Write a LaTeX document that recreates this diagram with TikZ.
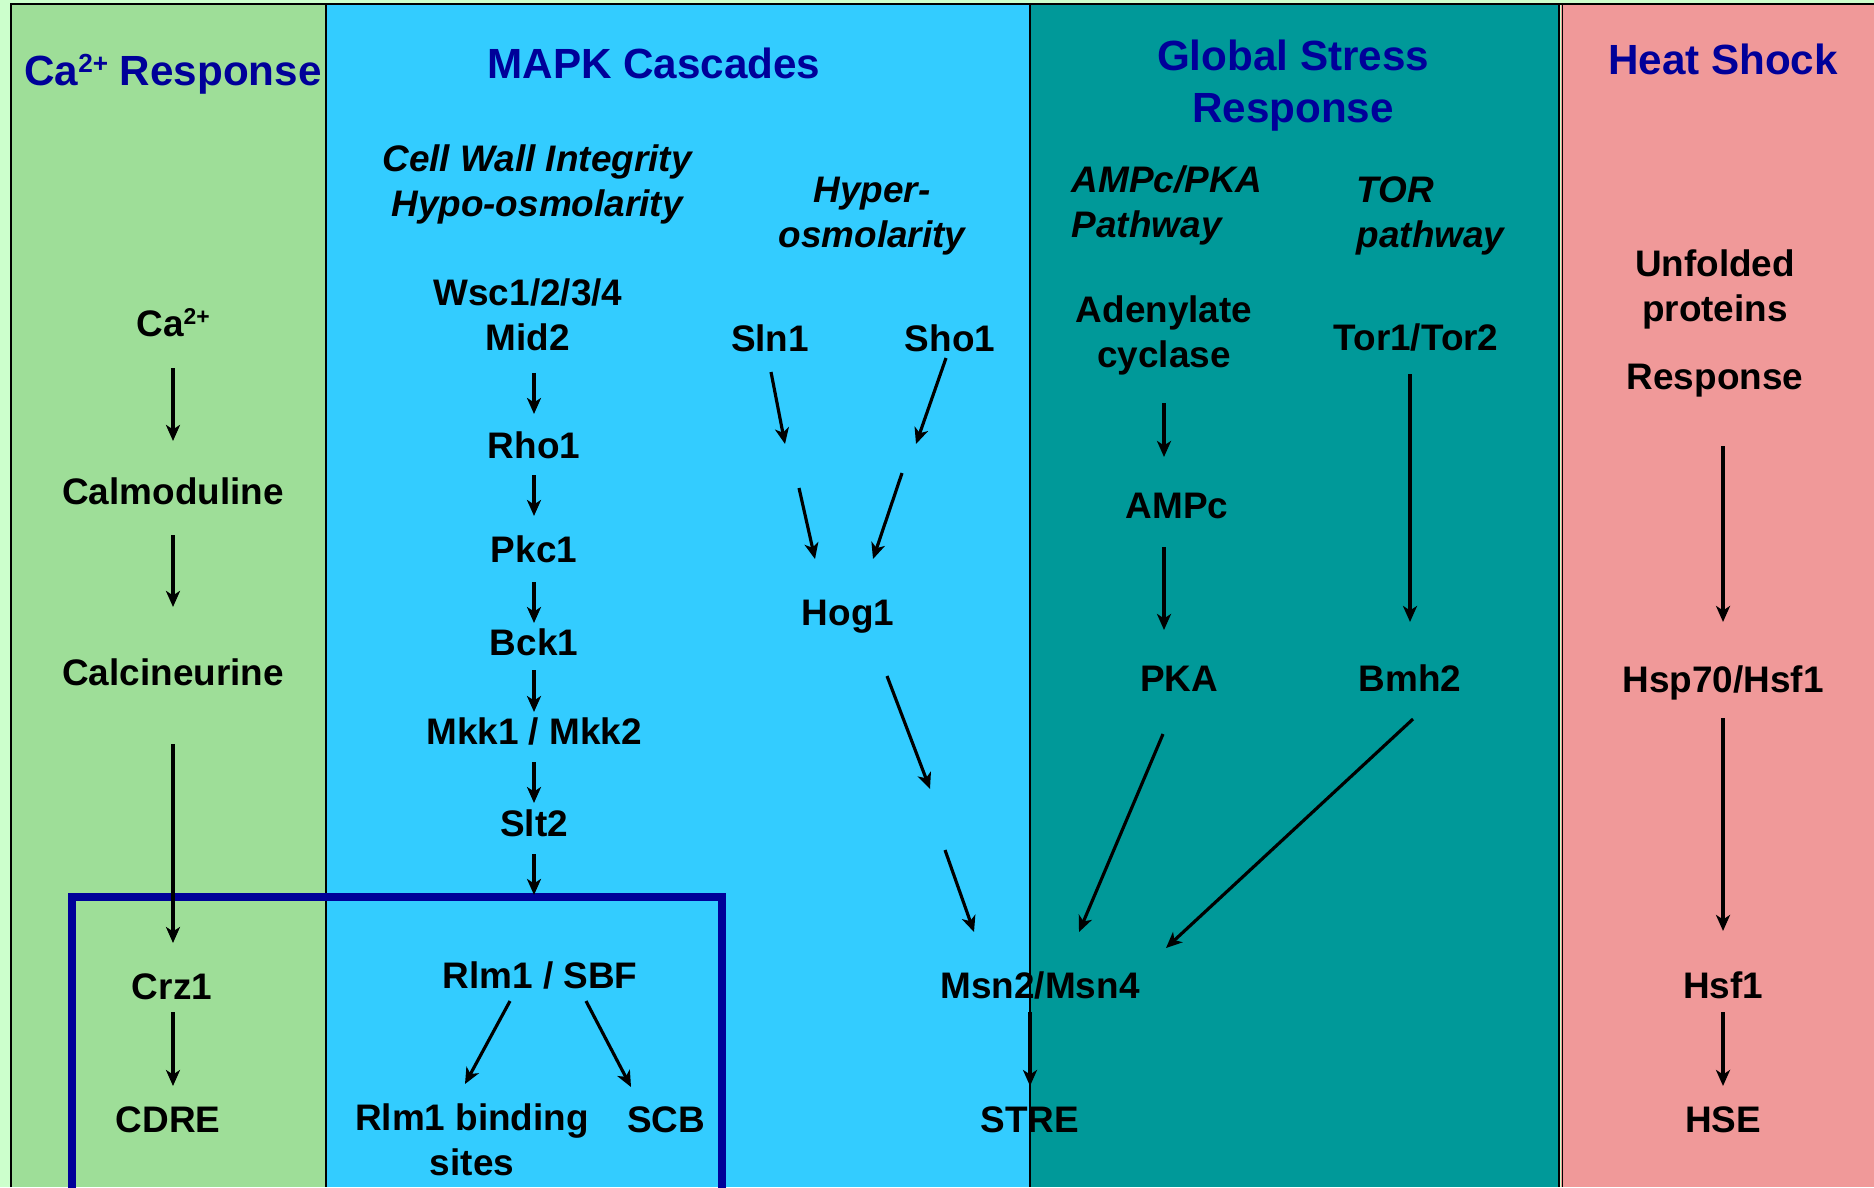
\documentclass[tikz,border=0pt]{standalone}
\usepackage{fontspec}
\setmainfont{Liberation Sans}
\usetikzlibrary{arrows.meta}
\definecolor{bgpale}{HTML}{CCFFCC}
\definecolor{cagreen}{HTML}{9EDE98}
\definecolor{mapkcyan}{HTML}{33CCFF}
\definecolor{gsteal}{HTML}{009999}
\definecolor{hspink}{HTML}{F09999}
\definecolor{titleblue}{HTML}{000099}
\newcommand{\caion}{Ca\raisebox{0.32em}{\fontsize{0.62em}{0.7em}\selectfont 2+}}
\tikzset{
  lab/.style={font=\fontsize{10.5}{12.8}\selectfont\bfseries, inner sep=0pt, text height=2.66mm, text depth=0pt},
  labm/.style={font=\fontsize{10.5}{12.8}\selectfont\bfseries, inner sep=0pt, align=center},
  sub/.style={font=\fontsize{10.5}{12.8}\selectfont\bfseries\itshape, inner sep=0pt},
  ttl/.style={font=\fontsize{12}{14.8}\selectfont\bfseries, text=titleblue, inner sep=0pt, align=center},
  arr/.style={-{Stealth[length=1.6mm,width=1.4mm,inset=0.45mm]}, line width=0.9pt},
  panel/.style={draw=black, line width=0.4pt}
}
\begin{document}
\begin{tikzpicture}[x=0.01cm, y=-0.01cm]
\useasboundingbox (0,0) rectangle (1874,1187);
% background and panels
\fill[bgpale] (0,0) rectangle (1874,1187);
\fill[cagreen] (11,4) rectangle (326,1187);
\fill[mapkcyan] (326,4) rectangle (1030,1187);
\fill[gsteal] (1030,4) rectangle (1559,1187);
\fill[hspink] (1561,4) rectangle (1874,1187);
\draw[panel] (11,1187) -- (11,4) -- (1874,4);
\draw[panel] (326,4) -- (326,1187);
\draw[panel] (1030,4) -- (1030,1187);
\draw[panel, line width=0.8pt] (1559,4) -- (1559,1187);
\draw[panel, line width=0.3pt] (1562,4) -- (1562,1187);
% transcription box
\draw[titleblue, line width=2.3pt] (72,1195) |- (722,897) -- (722,1195);

% titles
\node[ttl] (tca) at (173,74) {\caion{} Response};
\node[ttl] (tmapk) at (654,63) {MAPK Cascades};
\node[ttl] (tgs) at (1293,86) {Global Stress\\Response};
\node[ttl] (ths) at (1723,59) {Heat Shock};
\node[sub, align=center] (scwi) at (537,184) {Cell Wall Integrity\\Hypo-osmolarity};
\node[sub, align=center] (shyp) at (872,216) {Hyper-\\osmolarity};
\node[sub, align=left, anchor=west] (samp) at (1071,205) {AMPc/PKA\\Pathway};
\node[sub, align=left, anchor=west] (stor) at (1356,216) {TOR\\pathway};

% Ca2+ response
\node[lab] (ca) at (173,323) {\caion};
\node[lab] (calm) at (173,491) {Calmoduline};
\node[lab] (calc) at (173,672) {Calcineurine};
\node[lab] (crz) at (172,986) {Crz1};
\node[lab] (cdre) at (168,1119) {CDRE};

% MAPK cascades
\node[labm] (wsc) at (528,315) {Wsc1/2/3/4\\Mid2};
\node[lab] (rho) at (534,445) {Rho1};
\node[lab] (pkc) at (534,549) {Pkc1};
\node[lab] (bck) at (534,642) {Bck1};
\node[lab] (mkk) at (534,731) {Mkk1 / Mkk2};
\node[lab] (slt) at (534,823) {Slt2};
\node[lab] (rlm) at (540,975) {Rlm1 / SBF};
\node[labm] (bind) at (472,1140) {Rlm1 binding\\sites};
\node[lab] (scb) at (666,1119) {SCB};
\node[lab] (sln) at (770,338) {Sln1};
\node[lab] (sho) at (950,338) {Sho1};
\node[lab] (hog) at (848,612) {Hog1};

% global stress response
\node[lab] (msn) at (1040,985) {Msn2/Msn4};
\node[lab] (stre) at (1030,1119) {STRE};
\node[labm] (aden) at (1164,335) {Adenylate\\cyclase};
\node[lab] (ampc) at (1177,505) {AMPc};
\node[lab] (pka) at (1179,678) {PKA};
\node[lab] (tor) at (1416,337) {Tor1/Tor2};
\node[lab] (bmh) at (1410,678) {Bmh2};

% heat shock
\node[labm] (unf) at (1715,323) {Unfolded\\proteins\\[6.5pt]Response};
\node[lab] (hsp) at (1723,679) {Hsp70/Hsf1};
\node[lab] (hsf) at (1723,985) {Hsf1};
\node[lab] (hse) at (1723,1119) {HSE};

% free arrow ends
\coordinate (rlmA) at (510,1001);  \coordinate (bindA) at (465,1084);
\coordinate (rlmB) at (586,1001);  \coordinate (scbB) at (631,1087);
\coordinate (slnA) at (771,372);   \coordinate (slnB) at (785,444);
\coordinate (slnC) at (799,488);   \coordinate (slnD) at (815,559);
\coordinate (shoA) at (946,358);   \coordinate (shoB) at (916,444);
\coordinate (shoC) at (902,473);   \coordinate (shoD) at (873,559);
\coordinate (hogA) at (887,676);   \coordinate (hogB) at (930,789);
\coordinate (hogC) at (945,850);   \coordinate (hogD) at (974,932);
\coordinate (pkaA) at (1163,734);  \coordinate (pkaB) at (1079,932);
\coordinate (bmhA) at (1413,719);  \coordinate (bmhB) at (1166,948);

\path[arr]
  (ca) edge[shorten <=3.1mm, shorten >=3.6mm] (calm)
  (calm) edge[shorten <=3mm, shorten >=5.1mm] (calc)
  (calc) edge[shorten <=5.8mm, shorten >=2.9mm] (calc |- crz.north)
  (crz.south -| calc) edge[shorten <=1.2mm, shorten >=1.9mm] (calc |- cdre.north)
  (wsc.south -| rho) edge[shorten <=2.1mm, shorten >=1.7mm] (rho)
  (rho) edge[shorten <=1.6mm, shorten >=1.9mm] (pkc)
  (pkc) edge[shorten <=1.9mm, shorten >=0.5mm] (bck)
  (bck) edge[shorten <=1.4mm, shorten >=0.5mm] (mkk)
  (mkk) edge[shorten <=1.7mm, shorten >=0.6mm] (slt)
  (slt) edge[shorten <=1.7mm, shorten >=6.6mm] (slt |- rlm.north)
  (rlmA) edge (bindA)
  (rlmB) edge (scbB)
  (slnA) edge (slnB)
  (slnC) edge (slnD)
  (shoA) edge (shoB)
  (shoC) edge (shoD)
  (hogA) edge (hogB)
  (hogC) edge (hogD)
  (aden.south) edge[shorten <=2.8mm, shorten >=3.4mm] (aden |- ampc.north)
  (ampc.south -| aden) edge[shorten <=2.8mm, shorten >=3.4mm] (aden |- pka.north)
  (pkaA) edge (pkaB)
  (tor.south -| bmh) edge[shorten <=2.3mm, shorten >=4.2mm] (bmh)
  (bmhA) edge (bmhB)
  (unf.south -| hsp) edge[shorten <=4.9mm, shorten >=4.3mm] (hsp)
  (hsp) edge[shorten <=2.5mm, shorten >=4mm] (hsf)
  (hsf) edge[shorten <=1.3mm, shorten >=1.9mm] (hse);
\draw[arr, line width=1.2pt, shorten <=1.3mm, shorten >=1.9mm] (msn.south -| stre) -- (stre.north);
\end{tikzpicture}
\end{document}
